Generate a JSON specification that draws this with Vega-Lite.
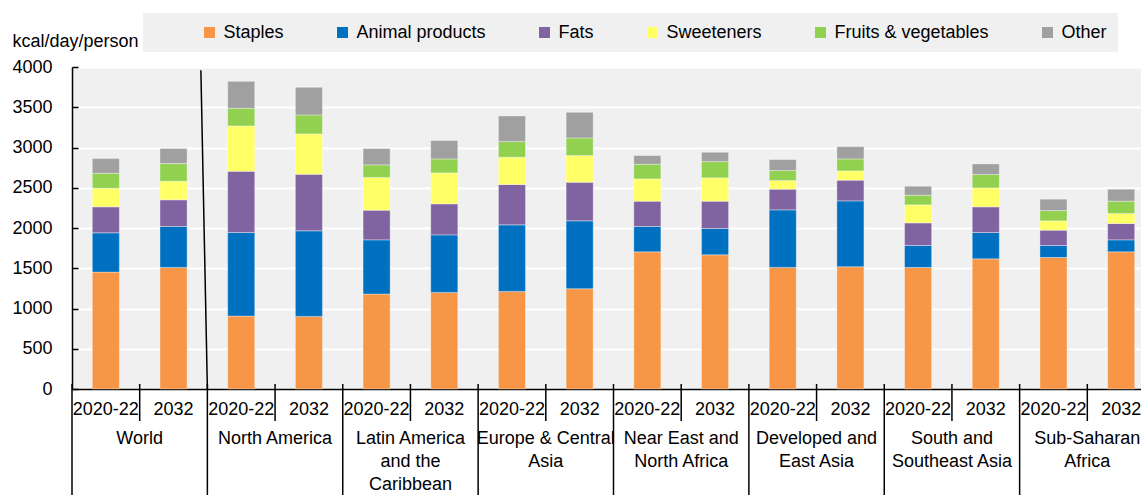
{
  "$schema": "https://vega.github.io/schema/vega-lite/v6.json",
  "width": 1069,
  "height": 322,
  "autosize": {"type": "none"},
  "padding": {"left": 72, "top": 67, "right": 0, "bottom": 106},
  "background": "white",
  "config": {
    "view": {"fill": "#F0F0F0", "stroke": null},
    "font": "Liberation Sans",
    "text": {"font": "Liberation Sans"}
  },
  "data": {
    "values": [
      {"region": "World", "period": "2020-22", "Staples": 1452, "Animal products": 488, "Fats": 323, "Sweeteners": 231, "Fruits & vegetables": 186, "Other": 182},
      {"region": "World", "period": "2032", "Staples": 1510, "Animal products": 509, "Fats": 331, "Sweeteners": 231, "Fruits & vegetables": 219, "Other": 187},
      {"region": "North America", "period": "2020-22", "Staples": 906, "Animal products": 1038, "Fats": 761, "Sweeteners": 563, "Fruits & vegetables": 219, "Other": 335},
      {"region": "North America", "period": "2032", "Staples": 902, "Animal products": 1063, "Fats": 703, "Sweeteners": 501, "Fruits & vegetables": 235, "Other": 344},
      {"region": "Latin America\nand the\nCaribbean", "period": "2020-22", "Staples": 1179, "Animal products": 674, "Fats": 368, "Sweeteners": 406, "Fruits & vegetables": 157, "Other": 203},
      {"region": "Latin America\nand the\nCaribbean", "period": "2032", "Staples": 1200, "Animal products": 715, "Fats": 385, "Sweeteners": 385, "Fruits & vegetables": 173, "Other": 228},
      {"region": "Europe & Central\nAsia", "period": "2020-22", "Staples": 1212, "Animal products": 827, "Fats": 501, "Sweeteners": 339, "Fruits & vegetables": 194, "Other": 319},
      {"region": "Europe & Central\nAsia", "period": "2032", "Staples": 1245, "Animal products": 844, "Fats": 480, "Sweeteners": 331, "Fruits & vegetables": 219, "Other": 318},
      {"region": "Near East and\nNorth Africa", "period": "2020-22", "Staples": 1704, "Animal products": 315, "Fats": 314, "Sweeteners": 277, "Fruits & vegetables": 182, "Other": 108},
      {"region": "Near East and\nNorth Africa", "period": "2032", "Staples": 1667, "Animal products": 327, "Fats": 339, "Sweeteners": 290, "Fruits & vegetables": 202, "Other": 116},
      {"region": "Developed and\nEast Asia", "period": "2020-22", "Staples": 1510, "Animal products": 715, "Fats": 257, "Sweeteners": 107, "Fruits & vegetables": 125, "Other": 136},
      {"region": "Developed and\nEast Asia", "period": "2032", "Staples": 1518, "Animal products": 819, "Fats": 257, "Sweeteners": 115, "Fruits & vegetables": 149, "Other": 153},
      {"region": "South and\nSoutheast Asia", "period": "2020-22", "Staples": 1510, "Animal products": 273, "Fats": 281, "Sweeteners": 224, "Fruits & vegetables": 119, "Other": 112},
      {"region": "South and\nSoutheast Asia", "period": "2032", "Staples": 1617, "Animal products": 327, "Fats": 319, "Sweeteners": 235, "Fruits & vegetables": 166, "Other": 132},
      {"region": "Sub-Saharan\nAfrica", "period": "2020-22", "Staples": 1634, "Animal products": 149, "Fats": 190, "Sweeteners": 116, "Fruits & vegetables": 128, "Other": 141},
      {"region": "Sub-Saharan\nAfrica", "period": "2032", "Staples": 1704, "Animal products": 149, "Fats": 203, "Sweeteners": 124, "Fruits & vegetables": 153, "Other": 149}
    ]
  },
  "transform": [
    {"calculate": "datum.region + '|' + datum.period", "as": "bar"},
    {"fold": ["Staples", "Animal products", "Fats", "Sweeteners", "Fruits & vegetables", "Other"], "as": ["category", "kcal"]},
    {"calculate": "indexof(['Staples', 'Animal products', 'Fats', 'Sweeteners', 'Fruits & vegetables', 'Other'], datum.category)", "as": "stackOrder"}
  ],
  "layer": [
    {
      "mark": {"type": "bar", "width": {"band": 0.4}, "stroke": "#ffffff", "strokeOpacity": 0.35, "strokeWidth": 1},
      "encoding": {
        "x": {
          "field": "bar", "type": "nominal", "sort": null,
          "scale": {"range": [0, 1083], "paddingInner": 0, "paddingOuter": 0},
          "axis": {"labels": false, "ticks": false, "grid": false, "title": null, "domain": true, "domainColor": "black", "domainWidth": 1.5}
        },
        "y": {
          "field": "kcal", "type": "quantitative", "stack": "zero",
          "scale": {"domain": [0, 4000], "nice": false},
          "axis": {
            "title": "kcal/day/person", "titleAngle": 0, "titleX": -60, "titleY": -21,
            "titleAlign": "left", "titleBaseline": "alphabetic", "titleFontSize": 18,
            "titleFontWeight": "normal", "titleColor": "black", "titleFont": "Liberation Sans",
            "values": [0, 500, 1000, 1500, 2000, 2500, 3000, 3500, 4000], "format": "d",
            "labelFontSize": 18, "labelColor": "black", "labelPadding": 26, "labelFont": "Liberation Sans",
            "tickSize": -6, "tickColor": "black", "tickWidth": 1.5,
            "domainColor": "black", "domainWidth": 1.5,
            "grid": true, "gridColor": "white", "gridWidth": 2
          }
        },
        "order": {"field": "stackOrder", "type": "quantitative", "sort": "ascending"},
        "color": {
          "field": "category", "type": "nominal",
          "sort": ["Staples", "Animal products", "Fats", "Sweeteners", "Fruits & vegetables", "Other"],
          "scale": {
            "domain": ["Staples", "Animal products", "Fats", "Sweeteners", "Fruits & vegetables", "Other"],
            "range": ["#F79646", "#0070C0", "#8064A2", "#FFFF66", "#92D050", "#A0A0A0"]
          },
          "legend": {
            "orient": "none", "legendX": 71, "legendY": -54, "direction": "horizontal",
            "title": " ", "titleOrient": "left", "titlePadding": 47, "titleFontSize": 18,
            "fillColor": "#F0F0F0", "padding": 10.5,
            "symbolType": "square", "symbolSize": 121, "symbolStrokeWidth": 0,
            "labelFontSize": 18, "labelColor": "black", "labelOffset": 5, "labelLimit": 400,
            "labelFont": "Liberation Sans",
            "columnPadding": 49
          }
        }
      }
    },
    {
      "transform": [{"filter": "datum.category == 'Staples' && datum.period == '2032'"}],
      "mark": {"type": "rule", "color": "black", "strokeWidth": 1.5, "yOffset": -5, "y2Offset": 32},
      "encoding": {
        "x": {"field": "bar", "type": "nominal", "sort": null, "bandPosition": 0},
        "y": {"datum": 0},
        "y2": {"datum": 0}
      }
    },
    {
      "transform": [{"filter": "datum.category == 'Staples' && datum.period == '2020-22'"}],
      "mark": {"type": "rule", "color": "black", "strokeWidth": 1.5, "yOffset": -5, "y2Offset": 106},
      "encoding": {
        "x": {"field": "bar", "type": "nominal", "sort": null, "bandPosition": 0},
        "y": {"datum": 0},
        "y2": {"datum": 0}
      }
    },
    {
      "transform": [{"filter": "datum.category == 'Staples' && datum.region == 'North America' && datum.period == '2020-22'"}],
      "mark": {"type": "rule", "color": "black", "strokeWidth": 1.5, "xOffset": -6.5},
      "encoding": {
        "x": {"field": "bar", "type": "nominal", "sort": null, "bandPosition": 0},
        "x2": {"field": "bar", "bandPosition": 0},
        "y": {"datum": 3960},
        "y2": {"datum": 0}
      }
    },
    {
      "transform": [{"filter": "datum.category == 'Staples'"}],
      "mark": {"type": "text", "baseline": "alphabetic", "dy": 26, "fontSize": 18, "color": "black", "font": "Liberation Sans"},
      "encoding": {
        "x": {"field": "bar", "type": "nominal", "sort": null},
        "y": {"datum": 0},
        "text": {"field": "period"}
      }
    },
    {
      "transform": [{"filter": "datum.category == 'Staples' && datum.period == '2032'"}],
      "mark": {"type": "text", "baseline": "alphabetic", "dy": 55, "fontSize": 18, "color": "black", "lineBreak": "\n", "lineHeight": 23, "font": "Liberation Sans"},
      "encoding": {
        "x": {"field": "bar", "type": "nominal", "sort": null, "bandPosition": 0},
        "y": {"datum": 0},
        "text": {"field": "region"}
      }
    }
  ]
}
